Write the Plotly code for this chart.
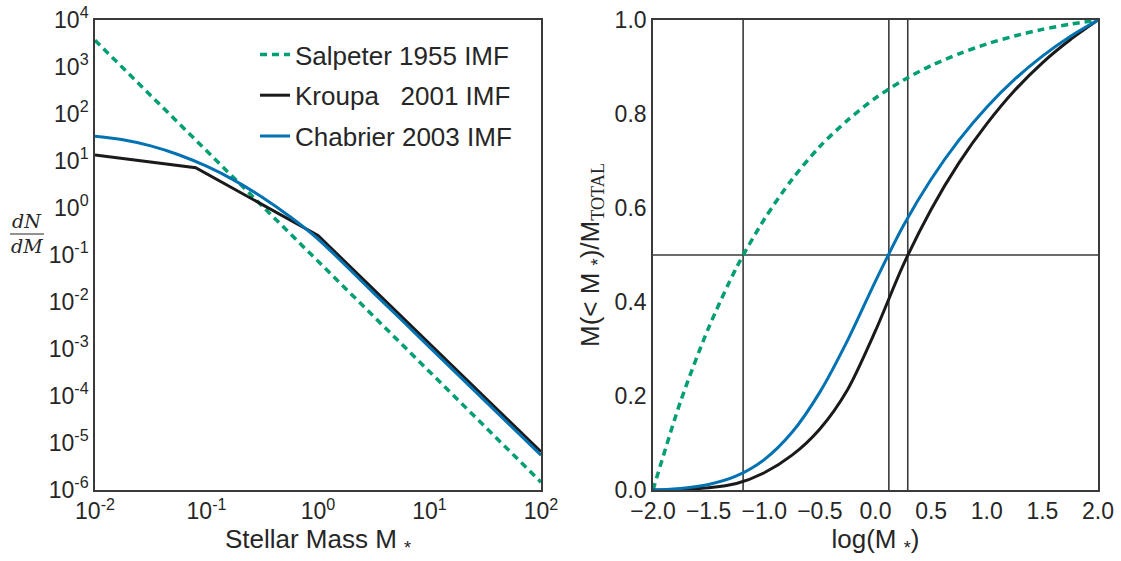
import plotly.graph_objects as go

# --- Left panel: IMF dN/dM versus stellar mass (solar masses) ---
mass_salpeter = [0.01, 100.0]
dndm_salpeter = [3.7e3, 1.47e-6]

mass_kroupa = [0.01, 0.08, 1.0, 100.0]
dndm_kroupa = [13.4, 7.2, 0.26, 6.5e-6]

mass_chabrier = [0.01, 0.0178, 0.0316, 0.0562, 0.1, 0.178, 0.316, 0.562, 1.0,
                 3.16, 10.0, 31.6, 100.0]
dndm_chabrier = [33.6, 28.3, 21.0, 13.6, 7.74, 3.87, 1.69, 0.650, 0.219,
                 0.0155, 1.10e-3, 7.76e-5, 5.5e-6]

# --- Right panel: cumulative mass fraction versus log mass ---
log_mass = [-2.0, -1.75, -1.5, -1.25, -1.0, -0.75, -0.5, -0.25, 0.0,
            0.25, 0.5, 0.75, 1.0, 1.25, 1.5, 1.75, 2.0]
frac_salpeter = [0.0, 0.190, 0.345, 0.473, 0.576, 0.661, 0.731, 0.787, 0.834,
                 0.872, 0.903, 0.928, 0.949, 0.966, 0.980, 0.991, 1.0]
frac_kroupa = [0.0, 0.0013, 0.0047, 0.0138, 0.0367, 0.0741, 0.130, 0.214, 0.339,
               0.479, 0.597, 0.696, 0.779, 0.850, 0.909, 0.958, 1.0]
frac_chabrier = [0.0, 0.0034, 0.0118, 0.0299, 0.0646, 0.1227, 0.2083, 0.3189, 0.4445,
                 0.5622, 0.6612, 0.7444, 0.8145, 0.8735, 0.9231, 0.9649, 1.0]

# half-mass points (log M) for Salpeter, Chabrier, Kroupa
median_log_mass = [-1.19, 0.12, 0.29]
half_fraction = 0.5

log_tick_vals = [1e-2, 1e-1, 1e0, 1e1, 1e2]
log_tick_text = ["10<sup>-2</sup>", "10<sup>-1</sup>", "10<sup>0</sup>",
                 "10<sup>1</sup>", "10<sup>2</sup>"]
y_tick_exps = [-6, -5, -4, -3, -2, -1, 0, 1, 2, 3, 4]

GREEN = "#009e73"
BLACK = "#1a1a1a"
BLUE = "#0072b2"
FRAME = "#3a3a3a"
TEXT = "#262626"
FONT = "Liberation Sans, Arial, sans-serif"

W, H = 1121, 561
ML, MR, MT, MB = 95, 23, 20, 71
PW = W - ML - MR
PH = H - MT - MB


def px_x(x):
    return (x - ML) / PW


def px_y(y):
    return (H - MB - y) / PH


fig = go.Figure()

fig.add_trace(go.Scatter(x=mass_salpeter, y=dndm_salpeter, mode="lines",
                         name="Salpeter 1955 IMF", legendgroup="a",
                         line=dict(color=GREEN, width=3.5, dash="7px,5px"),
                         xaxis="x", yaxis="y"))
fig.add_trace(go.Scatter(x=mass_kroupa, y=dndm_kroupa, mode="lines",
                         name="Kroupa\u00a0\u00a0\u00a02001 IMF", legendgroup="b",
                         line=dict(color=BLACK, width=3),
                         xaxis="x", yaxis="y"))
fig.add_trace(go.Scatter(x=mass_chabrier, y=dndm_chabrier, mode="lines",
                         name="Chabrier 2003 IMF", legendgroup="c",
                         line=dict(color=BLUE, width=3, shape="spline", smoothing=0.8),
                         xaxis="x", yaxis="y"))

# reference lines at half mass
for xm in median_log_mass:
    fig.add_trace(go.Scatter(x=[xm, xm], y=[0, 1], mode="lines", showlegend=False,
                             line=dict(color=FRAME, width=1.6),
                             xaxis="x2", yaxis="y2", hoverinfo="skip"))
fig.add_trace(go.Scatter(x=[-2, 2], y=[half_fraction, half_fraction], mode="lines",
                         showlegend=False, line=dict(color=FRAME, width=1.6),
                         xaxis="x2", yaxis="y2", hoverinfo="skip"))

fig.add_trace(go.Scatter(x=log_mass, y=frac_salpeter, mode="lines", showlegend=False,
                         line=dict(color=GREEN, width=3.5, dash="7px,5px",
                                   shape="spline", smoothing=0.8),
                         xaxis="x2", yaxis="y2"))
fig.add_trace(go.Scatter(x=log_mass, y=frac_kroupa, mode="lines", showlegend=False,
                         line=dict(color=BLACK, width=3, shape="spline", smoothing=0.8),
                         xaxis="x2", yaxis="y2"))
fig.add_trace(go.Scatter(x=log_mass, y=frac_chabrier, mode="lines", showlegend=False,
                         line=dict(color=BLUE, width=3, shape="spline", smoothing=0.8),
                         xaxis="x2", yaxis="y2"))

axis_common = dict(showline=True, mirror=True, linecolor=FRAME, linewidth=1.6,
                   showgrid=False, zeroline=False, ticks="", automargin=False,
                   tickfont=dict(family=FONT, size=23, color=TEXT))
title_font = dict(family=FONT, size=26, color=TEXT)

fig.update_layout(
    width=W, height=H,
    margin=dict(l=ML, r=MR, t=MT, b=MB, autoexpand=False),
    paper_bgcolor="white", plot_bgcolor="white",
    font=dict(family=FONT, color=TEXT),
    xaxis=dict(type="log", range=[-2, 2], domain=[0, px_x(541)],
               tickvals=log_tick_vals, ticktext=log_tick_text,
               title=dict(text="Stellar Mass M <sub>*</sub>", font=title_font,
                          standoff=6),
               **axis_common),
    yaxis=dict(type="log", range=[-6, 4], domain=[0, 1],
               tickvals=[10.0 ** e for e in y_tick_exps],
               ticktext=["10<sup>%d</sup>" % e for e in y_tick_exps],
               **axis_common),
    xaxis2=dict(range=[-2, 2], domain=[px_x(653), 1], anchor="y2",
                tickvals=[-2, -1.5, -1, -0.5, 0, 0.5, 1, 1.5, 2], tickformat=".1f",
                title=dict(text="log(M <sub>*</sub>)", font=title_font, standoff=6),
                **axis_common),
    yaxis2=dict(range=[0, 1], domain=[0, 1], anchor="x2",
                tickvals=[0, 0.2, 0.4, 0.6, 0.8, 1.0], tickformat=".1f",
                title=dict(text="M(&lt; M <sub>*</sub>)/M<sub><span style=\"font-family:'Liberation Serif', serif\">TOTAL</span></sub>",
                           font=title_font, standoff=8),
                **axis_common),
    legend=dict(x=px_x(255), y=px_y(31), xanchor="left", yanchor="top",
                bgcolor="rgba(0,0,0,0)", borderwidth=0,
                font=dict(family=FONT, size=26, color=TEXT),
                tracegroupgap=4, itemwidth=30),
    showlegend=True,
)

# dN/dM fraction label on the left axis
SERIF = "DejaVu Serif, serif"
fig.add_annotation(x=px_x(27), y=px_y(221), xref="paper", yref="paper",
                   xanchor="center", yanchor="middle",
                   text="<i>dN</i>", showarrow=False,
                   font=dict(family=SERIF, size=19, color=TEXT))
fig.add_annotation(x=px_x(27), y=px_y(246), xref="paper", yref="paper",
                   xanchor="center", yanchor="middle",
                   text="<i>dM</i>", showarrow=False,
                   font=dict(family=SERIF, size=19, color=TEXT))
fig.add_shape(type="line", xref="paper", yref="paper",
              x0=px_x(10), x1=px_x(44), y0=px_y(234), y1=px_y(234),
              line=dict(color=TEXT, width=1.2))

fig.write_html("out.html")
